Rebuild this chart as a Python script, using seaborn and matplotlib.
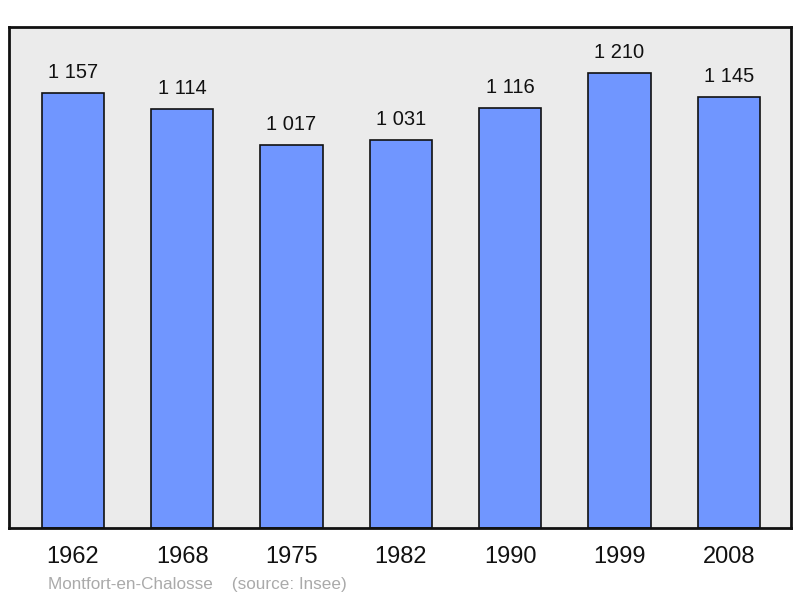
import matplotlib
matplotlib.use("Agg")
import matplotlib.pyplot as plt
import seaborn as sns
import pandas as pd

years = ["1962", "1968", "1975", "1982", "1990", "1999", "2008"]
population = [1157, 1114, 1017, 1031, 1116, 1210, 1145]
value_labels = ["1 157", "1 114", "1 017", "1 031", "1 116", "1 210", "1 145"]

sns.set_theme(style="white")
plt.rcParams['font.family'] = ['Liberation Sans', 'DejaVu Sans']

df = pd.DataFrame({"year": years, "pop": population})

fig = plt.figure(figsize=(8.0, 5.98), dpi=100)
ax = fig.add_axes([9/800, 70/598, 782/800, 501/598])
ax.set_facecolor("#EBEBEB")

sns.barplot(data=df, x="year", y="pop", ax=ax, color="#7096FF", saturation=1,
            width=0.57, edgecolor="#111111", linewidth=1.2)

ax.set_xlim(-0.585, 6.57)
ax.set_ylim(0, 1332)
ax.set_yticks([])
ax.set_xlabel("")
ax.set_ylabel("")
ax.tick_params(axis="x", length=0, labelsize=17, pad=13, colors="#111111")

for i, (v, lab) in enumerate(zip(population, value_labels)):
    ax.annotate(lab, (i, v), xytext=(0, 8), textcoords="offset points",
                ha="center", va="bottom", fontsize=14.5, color="#111111")

for s in ax.spines.values():
    s.set_visible(True)
    s.set_linewidth(2)
    s.set_color("#111111")

fig.text(48/800, 1 - 584/598, "Montfort-en-Chalosse    (source: Insee)",
         fontsize=12.3, color="#AAAAAA", ha="left", va="center")

fig.savefig("out.png", dpi=100)
